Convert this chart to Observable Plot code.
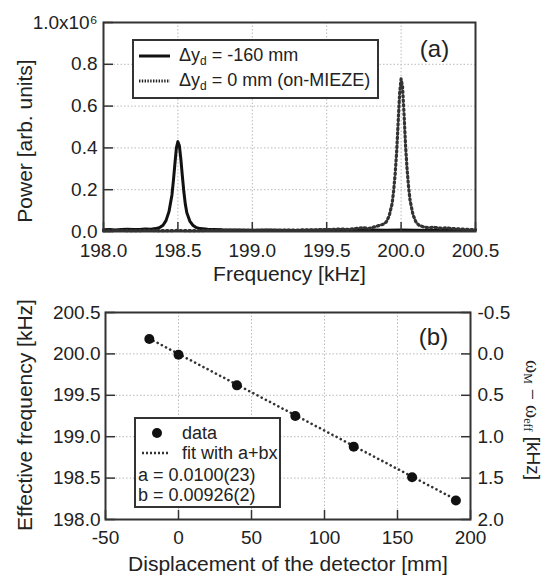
<!DOCTYPE html>
<html><head><meta charset="utf-8">
<script src="https://cdn.jsdelivr.net/npm/d3@7"></script>
<script src="https://cdn.jsdelivr.net/npm/@observablehq/plot@0.6"></script>
<style>
body{margin:0;background:#fff;}
#wrap{position:relative;width:543px;height:576px;font-family:"Liberation Sans",Arial,sans-serif;color:#222;}
#wrap > svg{position:absolute;left:0;display:block;}
.box{position:absolute;border:2px solid #333;box-sizing:border-box;background:#fff;}
.lt{position:absolute;font-size:18px;line-height:20px;white-space:nowrap;color:#222;}
.lt sub{font-size:12px;vertical-align:-4px;line-height:0;}
.rlab{position:absolute;writing-mode:vertical-rl;font-size:19px;white-space:nowrap;color:#222;line-height:20px;}
.rlab .w{font-family:"Liberation Serif","Times New Roman",serif;font-size:20px;}
.rlab sub{font-size:12px;line-height:0;}
#ov{position:absolute;left:0;top:0;pointer-events:none;}
</style></head><body><div id="wrap"></div>
<script>
// ---------- Panel (a) data ----------
const freqSolid = [198.00,198.04,198.08,198.12,198.16,198.20,198.24,198.28,198.32,198.35,198.38,198.40,198.42,198.44,198.46,198.47,198.48,198.49,198.50,198.51,198.52,198.53,198.54,198.55,198.56,198.58,198.60,198.62,198.65,198.70,198.75,198.80,198.90,199.00,199.10,199.20,199.30,199.40,199.50,199.60,199.70,199.80,199.90,200.00,200.10,200.20,200.30,200.40,200.50];
const powerSolid = [0.008,0.010,0.007,0.009,0.011,0.009,0.010,0.012,0.011,0.014,0.020,0.030,0.052,0.095,0.175,0.245,0.325,0.400,0.430,0.410,0.345,0.265,0.190,0.130,0.090,0.050,0.030,0.020,0.014,0.011,0.010,0.008,0.007,0.006,0.007,0.006,0.005,0.006,0.007,0.008,0.006,0.007,0.006,0.007,0.006,0.005,0.006,0.005,0.006];
const freqDotted = [198.00,198.10,198.20,198.30,198.40,198.50,198.60,198.70,198.80,198.90,199.00,199.10,199.20,199.30,199.40,199.50,199.60,199.65,199.70,199.75,199.78,199.82,199.85,199.88,199.90,199.92,199.94,199.95,199.96,199.97,199.98,199.99,200.00,200.01,200.02,200.03,200.04,200.05,200.06,200.08,200.10,200.12,200.15,200.18,200.22,200.26,200.30,200.35,200.40,200.45,200.50];
const powerDotted = [0.004,0.005,0.004,0.005,0.004,0.005,0.004,0.005,0.006,0.005,0.006,0.005,0.006,0.007,0.008,0.009,0.012,0.010,0.015,0.018,0.014,0.022,0.028,0.035,0.045,0.075,0.135,0.195,0.275,0.380,0.520,0.660,0.730,0.690,0.560,0.410,0.300,0.215,0.150,0.080,0.045,0.030,0.022,0.018,0.020,0.016,0.017,0.014,0.012,0.010,0.009];
const freqTicks = [198.0,198.5,199.0,199.5,200.0,200.5];
const powerTicks = [0.0,0.2,0.4,0.6,0.8,1.0];

// ---------- Panel (b) data ----------
const displacement = [-20,0,40,80,120,160,190];
const effFreq = [200.18,199.99,199.62,199.25,198.88,198.51,198.23];
const fitX = [-20,190];
const fitY = [200.185,198.24];
const dispTicks = [-50,0,50,100,150,200];
const effTicks = [198.0,198.5,199.0,199.5,200.0,200.5];
const deltaTicks = [-0.5,0.0,0.5,1.0,1.5,2.0];
const omegaM = 200.0;

const font = '"Liberation Sans", Arial, sans-serif';
const solidData = freqSolid.map((f,i)=>({f, p: powerSolid[i]}));
const dottedData = freqDotted.map((f,i)=>({f, p: powerDotted[i]}));
const pointsData = displacement.map((x,i)=>({x, y: effFreq[i]}));
const fitData = fitX.map((x,i)=>({x, y: fitY[i]}));
const fmt1 = v => (Math.abs(v) < 1e-9 ? 0 : v).toFixed(1);

const TICK_FS = 19, TITLE_FS = 21;
const gridStyle = {stroke:"#bbb", strokeOpacity:1, strokeDasharray:"1.5,2", strokeWidth:1};
const common = {width:543, height:288, style:{fontFamily:font, fontSize:"19px", color:"#222", background:"transparent", overflow:"visible"}};
const titleOpts = {text:d=>d, textAnchor:"middle", lineAnchor:"middle", fontSize:TITLE_FS, fill:"#222"};

const plotA = Plot.plot({
  ...common,
  marginLeft:103, marginRight:68, marginTop:22, marginBottom:57,
  x:{domain:[198,200.5]},
  y:{domain:[0,1]},
  marks:[
    Plot.gridX(freqTicks.slice(1,-1), gridStyle),
    Plot.gridY(powerTicks.slice(1,-1), gridStyle),
    Plot.line(solidData, {x:"f", y:"p", stroke:"#111", strokeWidth:3}),
    Plot.line(dottedData, {x:"f", y:"p", stroke:"#333", strokeWidth:3.2, strokeDasharray:"1.5,3"}),
    Plot.frame({stroke:"#333", strokeWidth:2}),
    Plot.axisX({ticks:freqTicks, tickSize:-9, tickPadding:21, tickFormat:d=>d.toFixed(1), stroke:"#333", strokeWidth:1.5, fontSize:TICK_FS, label:null}),
    Plot.axisY({ticks:powerTicks, tickSize:-10, tickPadding:16, tickFormat:d=> d===1 ? "1.0x10\u2076" : d.toFixed(1), stroke:"#333", strokeWidth:1.5, fontSize:TICK_FS, label:null}),
    Plot.text(["Frequency [kHz]"], {...titleOpts, frameAnchor:"bottom", dy:43}),
    Plot.text(["Power [arb. units]"], {...titleOpts, frameAnchor:"left", rotate:-90, dx:-78, dy:14}),
    Plot.text(["(a)"], {...titleOpts, frameAnchor:"top-right", dx:-41, dy:27, fontSize:24})
  ]
});

const plotB = Plot.plot({
  ...common,
  marginLeft:105, marginRight:73, marginTop:24, marginBottom:57,
  x:{domain:[-50,200]},
  y:{domain:[198,200.5]},
  marks:[
    Plot.gridX(dispTicks.slice(1,-1), gridStyle),
    Plot.gridY(effTicks.slice(1,-1), gridStyle),
    Plot.line(fitData, {x:"x", y:"y", stroke:"#333", strokeWidth:2.6, strokeDasharray:"0.1,4.6", strokeLinecap:"round"}),
    Plot.dot(pointsData, {x:"x", y:"y", r:5, fill:"#111", stroke:null}),
    Plot.frame({stroke:"#333", strokeWidth:2}),
    Plot.axisX({ticks:dispTicks, tickSize:-9, tickPadding:20, tickFormat:d=>String(d), stroke:"#333", strokeWidth:1.5, fontSize:TICK_FS, label:null}),
    Plot.axisY({ticks:effTicks, tickSize:-10, tickPadding:15, tickFormat:d=>d.toFixed(1), stroke:"#333", strokeWidth:1.5, fontSize:TICK_FS, label:null}),
    Plot.axisY({anchor:"right", ticks:deltaTicks.map(v=>omegaM - v), tickSize:-10, tickPadding:17, tickFormat:d=>fmt1(omegaM - d), stroke:"#333", strokeWidth:1.5, fontSize:TICK_FS, label:null}),
    Plot.text(["Displacement of the detector [mm]"], {...titleOpts, frameAnchor:"bottom", dy:45}),
    Plot.text(["Effective frequency [kHz]"], {...titleOpts, frameAnchor:"left", rotate:-90, dx:-80, dy:-1}),
    Plot.text(["(b)"], {...titleOpts, frameAnchor:"top-right", dx:-37, dy:25, fontSize:24})
  ]
});

const wrap = document.getElementById("wrap");
plotA.style.top = "0px";
plotB.style.top = "288px";
wrap.appendChild(plotA);
wrap.appendChild(plotB);

// ---------- Legends and right-axis title (overlay) ----------
wrap.insertAdjacentHTML("beforeend", `
<div class="box" style="left:132px;top:39px;width:247px;height:60px"></div>
<div class="box" style="left:134px;top:417px;width:147px;height:91px"></div>
<svg id="ov" width="543" height="576">
  <line x1="139" y1="56" x2="170" y2="56" stroke="#111" stroke-width="3"/>
  <line x1="139" y1="81" x2="170" y2="81" stroke="#222" stroke-width="3" stroke-dasharray="1.4,1.4"/>
  <circle cx="157" cy="433" r="5" fill="#111"/>
  <line x1="142" y1="453" x2="170" y2="453" stroke="#333" stroke-width="2.5" stroke-dasharray="2,2"/>
</svg>
<div class="lt" style="left:179px;top:45px">Δy<sub>d</sub> = -160 mm</div>
<div class="lt" style="left:179px;top:70px">Δy<sub>d</sub> = 0 mm (on-MIEZE)</div>
<div class="lt" style="left:182px;top:423px">data</div>
<div class="lt" style="left:182px;top:443px">fit with a+bx</div>
<div class="lt" style="left:138px;top:465px">a = 0.0100(23)</div>
<div class="lt" style="left:138px;top:485px">b = 0.00926(2)</div>
<div class="rlab" style="left:523px;top:360px"><span class="w">ω<sub>M</sub> − ω<sub>eff</sub></span> [kHz]</div>
`);
</script></body></html>
